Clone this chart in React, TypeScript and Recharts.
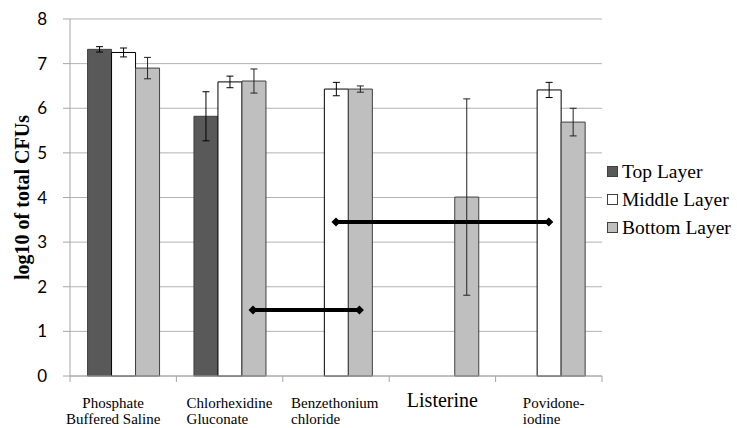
import React from "react";
import {
  ComposedChart,
  Bar,
  XAxis,
  YAxis,
  CartesianGrid,
  ErrorBar,
  Legend,
  ReferenceLine,
  ReferenceDot,
} from "recharts";

// treatments along the x axis (each label split into its printed lines)
const treatments = [
  ["Phosphate", "Buffered Saline"],
  ["Chlorhexidine", "Gluconate"],
  ["Benzethonium", "chloride"],
  ["Listerine"],
  ["Povidone-", "iodine"],
];

// log10 of total CFUs, per layer
const topLayer = [7.32, 5.82, 0, 0, 0];
const middleLayer = [7.25, 6.59, 6.43, 0, 6.41];
const bottomLayer = [6.9, 6.61, 6.43, 4.01, 5.69];

// error bar half-lengths
const topErr = [0.06, 0.55, null, null, null];
const middleErr = [0.1, 0.13, 0.15, null, 0.17];
const bottomErr = [0.24, 0.27, 0.07, 2.2, 0.31];

// significance brackets: x in category units (0..5), y in log10 units
const brackets = [
  { x1: 1.72, x2: 2.72, y: 1.48 },
  { x1: 2.5, x2: 4.5, y: 3.45 },
];

const yTicks = [0, 1, 2, 3, 4, 5, 6, 7, 8];

const data = treatments.map((lines, i) => ({
  name: lines.join(" "),
  pos: i + 0.5,
  top: topLayer[i],
  middle: middleLayer[i],
  bottom: bottomLayer[i],
  topErr: topErr[i],
  middleErr: middleErr[i],
  bottomErr: bottomErr[i],
}));

const W = 737;
const H = 428;
const LEFT = 70;
const RIGHT = 135;
const BAND = (W - LEFT - RIGHT) / treatments.length;

const serif = "'Liberation Serif', 'Times New Roman', serif";

// per-label placement to mimic the original layout
const labelStyle = [
  { dx: -10, anchor: "middle", size: 15 },
  { dx: -43, anchor: "start", size: 15 },
  { dx: -45, anchor: "start", size: 15 },
  { dx: 0, anchor: "middle", size: 20 },
  { dx: -26, anchor: "start", size: 15 },
];

const XTick = (props: any) => {
  const { x, y, payload, index } = props;
  const i = payload.index ?? index;
  const lines = treatments[i] || [];
  const st = labelStyle[i];
  const axisY = y - 8;
  return (
    <g>
      <line x1={x - BAND / 2} x2={x - BAND / 2} y1={axisY} y2={axisY + 6} stroke="#a6a6a6" />
      {i === treatments.length - 1 && (
        <line x1={x + BAND / 2} x2={x + BAND / 2} y1={axisY} y2={axisY + 6} stroke="#a6a6a6" />
      )}
      {lines.map((t, k) => (
        <text
          key={k}
          x={x + st.dx}
          y={axisY + 32 + k * 16 - (st.size > 15 ? 1 : 0)}
          textAnchor={st.anchor}
          fontFamily={serif}
          fontSize={st.size}
          fill="#000"
        >
          {t}
        </text>
      ))}
    </g>
  );
};

const legendItems = [
  { label: "Top Layer", fill: "#595959", stroke: "#404040" },
  { label: "Middle Layer", fill: "#ffffff", stroke: "#404040" },
  { label: "Bottom Layer", fill: "#bfbfbf", stroke: "#404040" },
];

const renderLegend = () => (
  <svg width={131} height={90}>
    {legendItems.map((it, i) => (
      <g key={it.label} transform={`translate(0, ${i * 28})`}>
        <rect x={2.5} y={8.5} width={10} height={10} fill={it.fill} stroke={it.stroke} />
        <text x={17} y={20} fontFamily={serif} fontSize={19.5} fill="#000">
          {it.label}
        </text>
      </g>
    ))}
  </svg>
);

const Diamond = (props: any) => {
  const { cx, cy } = props;
  const r = 4.5;
  return (
    <polygon
      points={`${cx},${cy - r} ${cx + r},${cy} ${cx},${cy + r} ${cx - r},${cy}`}
      fill="#000"
    />
  );
};

const App = () => {
  return (
    <div style={{ position: "absolute", left: 0, top: 0, background: "#fff" }}>
      <ComposedChart
        width={W}
        height={H}
        data={data}
        margin={{ top: 19, right: RIGHT, bottom: 0, left: 0 }}
        barCategoryGap="16.5%"
        barGap={0}
      >
        <CartesianGrid vertical={false} stroke="#b3b3b3" />
        <XAxis
          xAxisId="cat"
          dataKey="name"
          height={52}
          tick={<XTick />}
          tickLine={false}
          axisLine={{ stroke: "#a6a6a6" }}
          interval={0}
        />
        <XAxis
          xAxisId="num"
          dataKey="pos"
          type="number"
          domain={[0, 5]}
          allowDataOverflow
          hide
        />
        <YAxis
          domain={[0, 8]}
          ticks={yTicks}
          width={LEFT}
          interval={0}
          tickSize={7}
          tickMargin={16}
          tickLine={{ stroke: "#a6a6a6" }}
          axisLine={{ stroke: "#a6a6a6" }}
          tick={{ fill: "#000", fontSize: 17, fontFamily: "Lato, 'Open Sans', sans-serif" }}
          label={{
            content: () => (
              <text
                x={29}
                y={197.5}
                transform="rotate(-90 29 197.5)"
                textAnchor="middle"
                fontFamily={serif}
                fontWeight="bold"
                fontSize={20}
                fill="#000"
              >
                log10 of total CFUs
              </text>
            ),
          }}
        />
        <Legend
          layout="vertical"
          align="center"
          verticalAlign="middle"
          content={renderLegend}
          wrapperStyle={{ left: 605, top: 158, width: 131 }}
        />
        <Bar xAxisId="cat" dataKey="top" name="Top Layer" fill="#595959" stroke="#404040" isAnimationActive={false}>
          <ErrorBar dataKey="topErr" width={3.5} stroke="#000" strokeWidth={1} />
        </Bar>
        <Bar xAxisId="cat" dataKey="middle" name="Middle Layer" fill="#ffffff" stroke="#000" isAnimationActive={false}>
          <ErrorBar dataKey="middleErr" width={3.5} stroke="#000" strokeWidth={1} />
        </Bar>
        <Bar xAxisId="cat" dataKey="bottom" name="Bottom Layer" fill="#bfbfbf" stroke="#404040" isAnimationActive={false}>
          <ErrorBar dataKey="bottomErr" width={3.5} stroke="#222" strokeWidth={1} />
        </Bar>
        {brackets.map((b, i) => (
          <ReferenceLine
            key={`l${i}`}
            xAxisId="num"
            segment={[
              { x: b.x1, y: b.y },
              { x: b.x2, y: b.y },
            ]}
            stroke="#000"
            strokeWidth={4}
            ifOverflow="visible"
          />
        ))}
        {brackets.flatMap((b, i) => [
          <ReferenceDot key={`a${i}`} xAxisId="num" x={b.x1} y={b.y} shape={<Diamond />} ifOverflow="visible" />,
          <ReferenceDot key={`b${i}`} xAxisId="num" x={b.x2} y={b.y} shape={<Diamond />} ifOverflow="visible" />,
        ])}
      </ComposedChart>
    </div>
  );
};

export default App;
